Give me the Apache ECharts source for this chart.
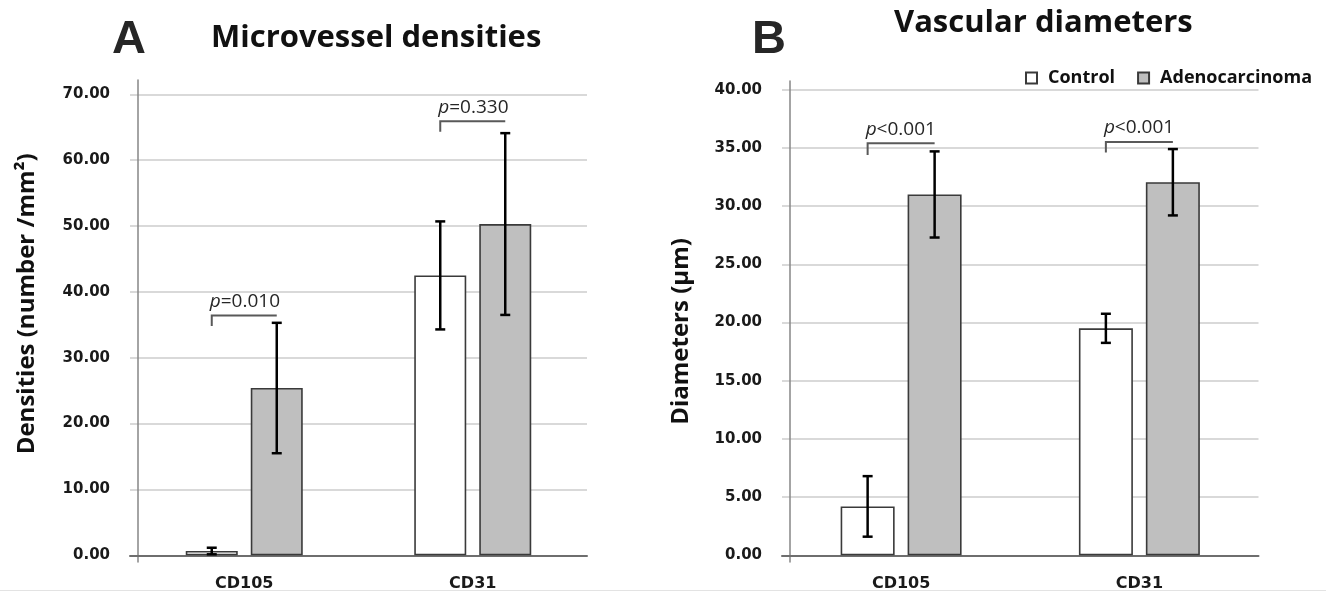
<!DOCTYPE html>
<html>
<head>
<meta charset="utf-8">
<script src="https://cdn.jsdelivr.net/npm/echarts@6/dist/echarts.min.js"></script>
<style>
html,body{margin:0;padding:0;background:#fff;}
#c{width:1326px;height:593px;}
</style>
</head>
<body>
<div id="c"></div>
<script>
// ---- data ----
const categories = ['CD105', 'CD31'];
const seriesNames = ['Control', 'Adenocarcinoma'];

const densControl = [0.65, 42.5];
const densControlErr = [0.5, 8.2];
const densAdeno = [25.4, 50.3];
const densAdenoErr = [9.9, 13.8];

const diamControl = [4.2, 19.5];
const diamControlErr = [2.6, 1.25];
const diamAdeno = [31.0, 32.05];
const diamAdenoErr = [3.7, 2.85];

const densPText = ['=0.010', '=0.330'];
const densBracketY = [36.4, 65.9];
const densBracketTick = [34.8, 64.3];

const diamPText = ['<0.001', '<0.001'];
const diamBracketY = [35.4, 35.5];
const diamBracketTick = [34.4, 34.6];

const densTicks = {min: 0, max: 70, interval: 10};
const diamTicks = {min: 0, max: 40, interval: 5};

// ---- styles ----
const TICK_FONT = 'DejaVu Sans';
const TEXT_FONT = 'Open Sans';
const BW_A = 52, BW_B = 54, GAP = 13;

function errRenderer(offset) {
  return function (params, api) {
    const c = api.value(0), v = api.value(1), e = api.value(2);
    const top = api.coord([c, v + e]);
    const bot = api.coord([c, v - e]);
    const x = top[0] + offset;
    const st = {stroke: '#000', lineWidth: 2.5};
    return {
      type: 'group',
      children: [
        {type: 'line', shape: {x1: x, y1: top[1], x2: x, y2: bot[1]}, style: st},
        {type: 'line', shape: {x1: x - 5, y1: top[1], x2: x + 5, y2: top[1]}, style: st},
        {type: 'line', shape: {x1: x - 5, y1: bot[1], x2: x + 5, y2: bot[1]}, style: st}
      ]
    };
  };
}

function bracketRenderer(offset, texts) {
  return function (params, api) {
    const c = api.value(0), yb = api.value(1), yt = api.value(2);
    const pb = api.coord([c, yb]);
    const pt = api.coord([c, yt]);
    const xl = pb[0] - offset, xr = pb[0] + offset;
    const txt = texts[params.dataIndex];
    return {
      type: 'group',
      children: [
        {type: 'polyline', shape: {points: [[xl, pt[1]], [xl, pb[1]], [xr, pb[1]]]},
         style: {stroke: '#595959', lineWidth: 2, fill: null}},
        {type: 'text', style: {
          text: '{i|p}{n|' + txt + '}', x: xl - 2, y: pb[1] - 14,
          align: 'left', verticalAlign: 'middle',
          rich: {
            i: {fontStyle: 'italic', fontFamily: TEXT_FONT, fontSize: 19, fill: '#262626'},
            n: {fontFamily: TEXT_FONT, fontSize: 19, fill: '#262626'}
          }
        }}
      ]
    };
  };
}

function yFmt(v) { return v.toFixed(2); }

const chart = echarts.init(document.getElementById('c'), null, {renderer: 'canvas'});

const catAxis = (gridIndex) => ({
  type: 'category', gridIndex, data: categories,
  axisLine: {show: true, lineStyle: {color: '#6e6e6e', width: 2}},
  axisTick: {show: false},
  axisLabel: {fontFamily: TICK_FONT, fontWeight: 'bold', fontSize: 16, color: '#1a1a1a', margin: 21}
});
const hiddenCat = (gridIndex) => ({type: 'category', gridIndex, data: categories, show: false});
const lineAxis = (gridIndex) => ({
  type: 'value', gridIndex, min: 0, max: 1,
  axisLine: {show: true, lineStyle: {color: '#868686', width: 1.5}},
  axisTick: {show: false}, axisLabel: {show: false}, splitLine: {show: false}
});
const valAxis = (gridIndex, t, name, nameGap, namePad) => ({
  type: 'value', gridIndex, min: t.min, max: t.max, interval: t.interval,
  offset: -7,
  axisLine: {show: false}, axisTick: {show: false},
  splitLine: {show: true, lineStyle: {color: '#d9d9d9', width: 2}},
  axisLabel: {formatter: yFmt, fontFamily: TICK_FONT, fontWeight: 'bold', fontSize: 15, color: '#1a1a1a', margin: 27},
  name, nameLocation: 'middle', nameRotate: 90, nameGap,
  nameTextStyle: {fontFamily: TEXT_FONT, fontWeight: 'bold', fontSize: 24, color: '#111', padding: namePad}
});

const barStyle = (fill) => ({color: fill, borderColor: '#3a3a3a', borderWidth: 1.6});

function panelSeries(xi, ctl, ctlErr, ade, adeErr, bw, bY, bT, pText) {
  const off = (bw + GAP) / 2;
  const gapPct = Math.round(GAP / bw * 100) + '%';
  return [
    {type: 'bar', name: seriesNames[0], xAxisIndex: xi, yAxisIndex: xi, data: ctl,
     barWidth: bw, barGap: gapPct, itemStyle: barStyle('#ffffff'), silent: true},
    {type: 'bar', name: seriesNames[1], xAxisIndex: xi, yAxisIndex: xi, data: ade,
     barWidth: bw, barGap: gapPct, itemStyle: barStyle('#bfbfbf'), silent: true},
    {type: 'custom', xAxisIndex: xi, yAxisIndex: xi, z: 5, clip: false,
     renderItem: errRenderer(-off), encode: {x: 0, y: 1},
     data: ctl.map((v, i) => [i, v, ctlErr[i]])},
    {type: 'custom', xAxisIndex: xi, yAxisIndex: xi, z: 5, clip: false,
     renderItem: errRenderer(off), encode: {x: 0, y: 1},
     data: ade.map((v, i) => [i, v, adeErr[i]])},
    {type: 'custom', xAxisIndex: xi, yAxisIndex: xi, z: 6, clip: false,
     renderItem: bracketRenderer(off, pText), encode: {x: 0, y: 1},
     data: bY.map((v, i) => [i, v, bT[i]])}
  ];
}

const option = {
  backgroundColor: '#ffffff',
  animation: false,
  grid: [
    {left: 130, top: 94.3, width: 457, height: 461},
    {left: 137.3, top: 80, width: 450, height: 482},
    {left: 782, top: 89.7, width: 476.5, height: 465.6},
    {left: 789.3, top: 81, width: 469, height: 481}
  ],
  xAxis: [catAxis(0), hiddenCat(1), catAxis(2), hiddenCat(3)],
  yAxis: [
    valAxis(0, densTicks, 'Densities (number /mm²)', 98, [0, 0, 0, 42]),
    lineAxis(1),
    valAxis(2, diamTicks, 'Diameters (µm)', 96, [0, 18, 0, 0]),
    lineAxis(3)
  ],
  legend: {
    data: seriesNames, left: 1020, top: 64,
    itemWidth: 11, itemHeight: 11, itemGap: 22, icon: 'rect',
    selectedMode: false,
    textStyle: {fontFamily: TEXT_FONT, fontWeight: 'bold', fontSize: 18, color: '#111', padding: [0, 0, 0, 6]}
  },
  graphic: [
    {type: 'text', left: 112, top: 17, style: {text: 'A', font: 'bold 47px "Liberation Sans"', fill: '#262626'}},
    {type: 'text', left: 211, top: 23, style: {text: 'Microvessel densities', font: 'bold 31px "Open Sans"', fill: '#111'}},
    {type: 'text', left: 752, top: 17, style: {text: 'B', font: 'bold 47px "Liberation Sans"', fill: '#262626'}},
    {type: 'text', left: 894, top: 8, style: {text: 'Vascular diameters', font: 'bold 31px "Open Sans"', fill: '#111'}},
    {type: 'rect', left: 0, top: 590, shape: {width: 1326, height: 1}, style: {fill: '#e3e3e3'}}
  ],
  series: [].concat(
    panelSeries(0, densControl, densControlErr, densAdeno, densAdenoErr, BW_A, densBracketY, densBracketTick, densPText),
    panelSeries(2, diamControl, diamControlErr, diamAdeno, diamAdenoErr, BW_B, diamBracketY, diamBracketTick, diamPText)
  )
};

chart.setOption(option);
</script>
</body>
</html>
